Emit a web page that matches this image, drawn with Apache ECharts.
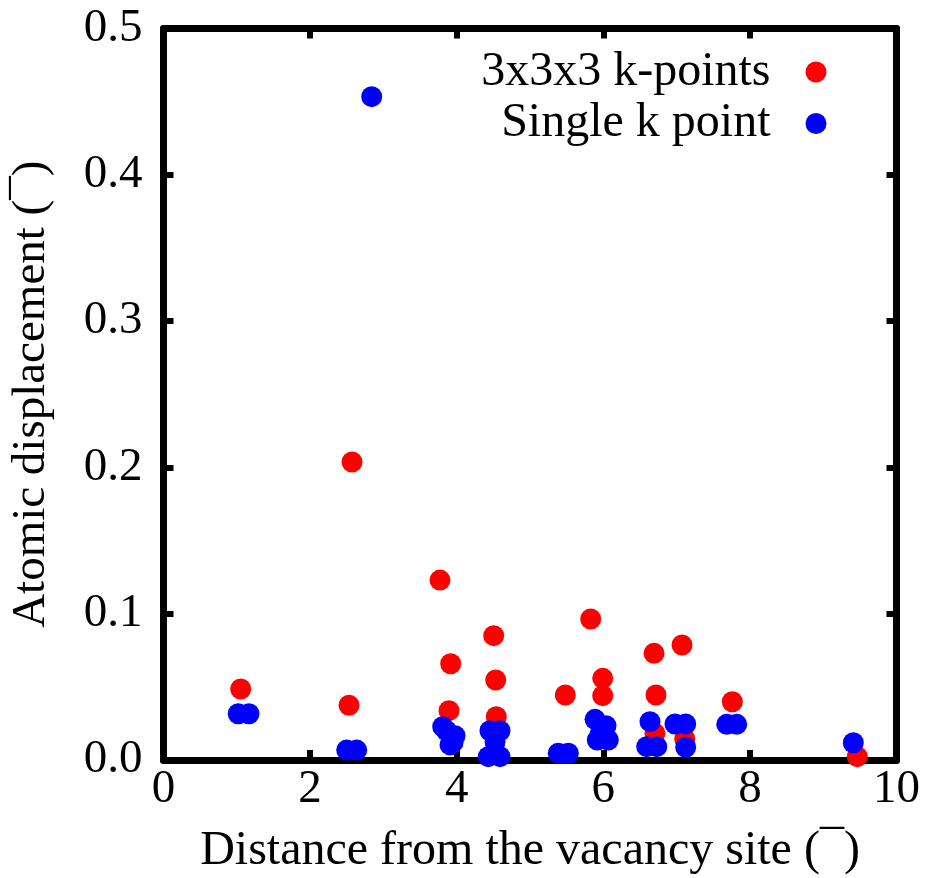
<!DOCTYPE html>
<html><head><meta charset="utf-8">
<script src="https://cdn.jsdelivr.net/npm/echarts@6/dist/echarts.min.js"></script>
<style>html,body{margin:0;padding:0;background:#fff}#c{width:930px;height:878px}</style>
</head><body><div id="c"></div>
<script>
const seriesNames = ["3x3x3 k-points", "Single k point"];
const xTicks = [0, 2, 4, 6, 8, 10];
const yTicks = [0.0, 0.1, 0.2, 0.3, 0.4, 0.5];
const kpoints333 = [
  [1.053, 0.0485], [2.531, 0.0374], [2.572, 0.2037], [3.772, 0.1230], [3.918, 0.0658], [3.895, 0.0337],
  [4.505, 0.0850], [4.532, 0.0547], [4.540, 0.0296], [5.482, 0.0444], [5.828, 0.0964], [5.992, 0.0558],
  [5.992, 0.0440], [6.692, 0.0729], [6.719, 0.0444], [6.705, 0.0182], [7.074, 0.0786], [7.111, 0.0144],
  [7.760, 0.0398], [9.465, 0.0023]
];
const singleK = [
  [1.020, 0.0316], [1.166, 0.0316], [2.499, 0.0068], [2.636, 0.0068], [2.840, 0.4534],
  [3.809, 0.0228], [3.860, 0.0200], [3.977, 0.0166], [3.909, 0.0103], [3.950, 0.0120],
  [4.454, 0.0200], [4.591, 0.0200], [4.523, 0.0123], [4.431, 0.0023], [4.591, 0.0023],
  [5.386, 0.0046], [5.523, 0.0046], [5.887, 0.0278], [6.037, 0.0234], [5.918, 0.0137], [6.068, 0.0137], [5.960, 0.0180],
  [6.637, 0.0262], [6.592, 0.0091], [6.729, 0.0091], [6.978, 0.0246], [7.124, 0.0246], [7.124, 0.0087],
  [7.684, 0.0244], [7.820, 0.0244], [9.411, 0.0118]
];
const colors = ["#ff0000", "#0000ff"];
const FONT = "Liberation Serif";
const chart = echarts.init(document.getElementById('c'));
const axisBase = {
  axisLine: {show: true, onZero: false, lineStyle: {color: '#000', width: 7}},
  axisTick: {show: true, inside: true, length: 10, lineStyle: {color: '#000', width: 6}},
  splitLine: {show: false}
};
chart.setOption({
  animation: false,
  backgroundColor: '#fff',
  grid: {left: 163.5, right: 33.5, top: 28.5, bottom: 118, containLabel: false, outerBoundsMode: 'none'},
  legend: {
    orient: 'vertical', right: 98.5, top: 43, align: 'right', itemGap: 3.5,
    itemWidth: 21, itemHeight: 21, icon: 'circle',
    textStyle: {fontFamily: FONT, fontSize: 48, lineHeight: 44, color: '#000', padding: [0, 30, 0, 0]},
    data: seriesNames
  },
  xAxis: [
    Object.assign({}, axisBase, {type: 'value', min: xTicks[0], max: xTicks[xTicks.length - 1], interval: 2, position: 'bottom',
      name: 'Distance from the vacancy site (¯)', nameLocation: 'middle', nameGap: 67,
      nameTextStyle: {fontFamily: FONT, fontSize: 48, color: '#000'},
      axisLabel: {fontFamily: FONT, fontSize: 47, color: '#000', margin: 6}}),
    Object.assign({}, axisBase, {type: 'value', min: xTicks[0], max: xTicks[xTicks.length - 1], interval: 2, position: 'top',
      axisLabel: {show: false}})
  ],
  yAxis: [
    Object.assign({}, axisBase, {type: 'value', min: yTicks[0], max: yTicks[yTicks.length - 1], interval: 0.1, position: 'left',
      name: 'Atomic displacement (¯)', nameLocation: 'middle', nameGap: 108, nameRotate: 90,
      nameTextStyle: {fontFamily: FONT, fontSize: 47, color: '#000'},
      axisLabel: {fontFamily: FONT, fontSize: 47, color: '#000', margin: 21, padding: [0, 0, 10, 0],
        formatter: v => v.toFixed(1)}}),
    Object.assign({}, axisBase, {type: 'value', min: yTicks[0], max: yTicks[yTicks.length - 1], interval: 0.1, position: 'right',
      axisLabel: {show: false}})
  ],
  series: [
    {name: seriesNames[0], type: 'scatter', data: kpoints333, symbol: 'circle', symbolSize: 21,
     itemStyle: {color: colors[0], opacity: 1}, xAxisIndex: 0, yAxisIndex: 0, z: 2},
    {name: seriesNames[1], type: 'scatter', data: singleK, symbol: 'circle', symbolSize: 21,
     itemStyle: {color: colors[1], opacity: 1}, xAxisIndex: 0, yAxisIndex: 0, z: 3}
  ]
});
</script></body></html>
